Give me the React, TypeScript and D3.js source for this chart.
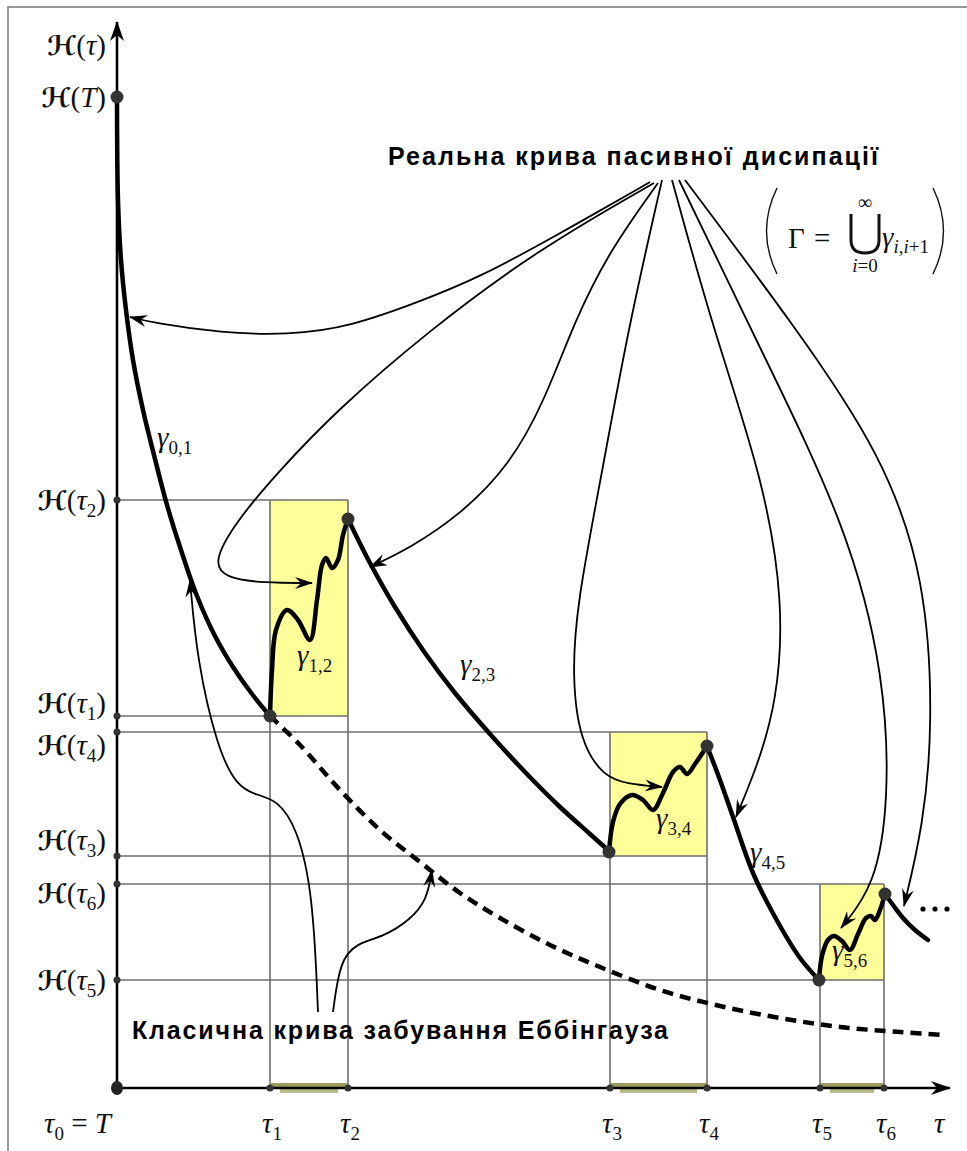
import * as d3 from "d3";
import React from "react";

const W = 967;
const H = 1151;

// time instants τ0..τ6 (abstract time units)
const tauValues = [0, 15.3, 23.1, 49.3, 59.0, 70.3, 76.7];
// memory level ℋ at each instant (index 0 is ℋ(T))
const hValues = [99.1, 37.2, 58.8, 23.2, 35.6, 10.8, 20.4];
// repetition intervals (pairs of τ indices)
const intervals = [
  [1, 2],
  [3, 4],
  [5, 6],
];

// passive dissipation segments
const gamma01: [number, number][] = [
  [0, 99.1], [0.1, 88.8], [0.4, 82.8], [0.9, 77.8], [1.6, 72.8], [2.6, 67.8], [3.7, 63.3],
  [5.0, 58.3], [6.4, 53.8], [8.0, 49.2], [9.8, 45.2], [11.6, 42.1], [13.5, 39.4], [15.3, 37.2],
];
const gamma12: [number, number][] = [
  [15.3, 37.2], [15.5, 41.8], [15.9, 45.8], [17.0, 47.8], [18.1, 46.8], [19.3, 44.8],
  [20.0, 48.8], [20.5, 52.3], [20.9, 53.0], [21.5, 52.0], [22.1, 52.8], [22.6, 55.3], [23.1, 56.9],
];
const gamma23: [number, number][] = [
  [23.1, 56.9], [25.3, 52.5], [27.8, 48.1], [30.8, 43.5], [33.8, 39.5], [37.3, 35.4],
  [40.8, 31.6], [44.3, 28.1], [47.3, 25.4], [49.2, 23.7],
];
const gamma34: [number, number][] = [
  [49.2, 23.6], [49.6, 26.6], [50.3, 28.4], [51.5, 29.3], [52.6, 28.8], [53.6, 27.8],
  [54.6, 29.5], [55.6, 31.6], [56.3, 32.1], [57.0, 31.4], [57.8, 32.4], [59.0, 34.2],
];
const gamma45: [number, number][] = [
  [59.0, 34.2], [60.3, 30.8], [61.6, 27.1], [63.6, 21.5], [65.8, 17.1], [68.3, 13.0], [70.2, 10.8],
];
const gamma56: [number, number][] = [
  [70.2, 10.8], [70.5, 13.2], [71.1, 14.8], [71.7, 15.2], [72.5, 14.7], [73.3, 13.8],
  [74.1, 15.4], [74.9, 17.0], [75.4, 17.2], [75.8, 16.8], [76.3, 17.8], [76.8, 19.4],
];
const gammaTail: [number, number][] = [
  [76.8, 19.4], [77.6, 18.3], [78.6, 17.0], [79.8, 15.8], [81.1, 14.8],
];
// classic Ebbinghaus forgetting curve
const ebbinghaus: [number, number][] = [
  [15.3, 37.2], [18.3, 34.3], [22.3, 29.8], [26.3, 25.8], [30.3, 22.6], [34.3, 19.5],
  [38.3, 17.0], [43.3, 14.3], [48.3, 12.1], [54.3, 9.8], [60.3, 8.2], [66.3, 7.0],
  [72.3, 6.1], [78.3, 5.6], [82.8, 5.3],
];
const knots: [number, number][] = [
  [15.3, 37.2], [23.1, 56.9], [49.2, 23.6], [59.0, 34.2], [70.2, 10.8], [76.8, 19.4],
];

// pointer arrows from the two captions
const topArrows: [number, number][][] = [
  [[53.3, 90.6], [43.7, 85.1], [36.3, 81.1], [30.7, 78.8], [23.3, 76.1], [17.1, 75.3], [10.4, 75.5], [3.7, 76.5], [1.3, 77.1]],
  [[53.7, 90.5], [42.0, 83.8], [31.0, 75.6], [22.0, 67.8], [16.0, 61.5], [11.8, 56.5], [9.6, 52.6], [10.8, 51.0], [14.6, 50.5], [19.5, 50.5]],
  [[54.1, 90.5], [49.3, 83.8], [45.8, 76.8], [42.8, 68.8], [39.3, 62.3], [34.3, 57.3], [29.3, 54.0], [25.3, 52.1]],
  [[54.5, 90.8], [51.1, 75.9], [48.4, 61.0], [46.0, 48.5], [45.5, 41.1], [46.3, 34.6], [48.7, 31.1], [51.1, 30.4], [54.5, 30.1]],
  [[55.5, 90.8], [59.6, 75.9], [64.6, 61.0], [66.7, 48.5], [66.0, 38.6], [64.0, 32.1], [61.9, 27.1]],
  [[56.2, 90.8], [64.6, 73.4], [73.1, 56.0], [76.8, 41.1], [77.2, 28.6], [75.8, 20.2], [72.4, 16.0]],
  [[56.8, 90.8], [68.0, 75.9], [76.5, 63.4], [80.9, 51.0], [81.6, 36.1], [80.6, 26.1], [78.7, 18.2]],
];
const bottomArrows: [number, number][][] = [
  [[20.1, 7.6], [19.6, 19.5], [18.0, 26.1], [16.0, 28.8], [14.0, 29.3], [12.0, 30.1], [10.0, 34.1], [8.0, 42.8], [7.3, 50.8]],
  [[21.6, 7.6], [22.3, 12.8], [24.0, 14.5], [26.6, 15.1], [29.3, 16.8], [31.0, 18.8], [31.5, 21.8]],
];

const x = d3.scaleLinear().domain([0, 83.3]).range([117, 950]);
const y = d3.scaleLinear().domain([0, 106.6]).range([1088, 22]);

const smooth = d3
  .line<[number, number]>()
  .x((d) => x(d[0]))
  .y((d) => y(d[1]))
  .curve(d3.curveCatmullRom.alpha(0.5));

const soft = d3
  .line<[number, number]>()
  .x((d) => x(d[0]))
  .y((d) => y(d[1]))
  .curve(d3.curveBasis);

const serif = "'Liberation Serif', 'DejaVu Serif', serif";
const scriptH = "'DejaVu Serif', 'DejaVu Sans', serif";
const sans = "'Liberation Sans', Arial, sans-serif";

const HLabel = ({ yy, sub }: { yy: number; sub: string | null }) => (
  <text x={106} y={yy + 10} textAnchor="end" fontFamily={serif} fontSize={29} fill="#111">
    <tspan fontFamily={scriptH} fontWeight="bold" fontStyle="italic" fontSize={27}>ℋ</tspan>
    <tspan>(</tspan>
    {sub === null ? (
      <tspan fontStyle="italic">T</tspan>
    ) : sub === "" ? (
      <tspan fontStyle="italic">τ</tspan>
    ) : (
      <>
        <tspan fontStyle="italic">τ</tspan>
        <tspan fontSize={19} dy={7}>{sub}</tspan>
      </>
    )}
    <tspan dy={sub ? -7 : 0}>)</tspan>
  </text>
);

const GLabel = ({ px, py, sub }: { px: number; py: number; sub: string }) => (
  <text x={px} y={py} fontFamily={serif} fontSize={29} fill="#111">
    <tspan fontStyle="italic">γ</tspan>
    <tspan fontSize={19} dy={7}>{sub}</tspan>
  </text>
);

const hLabelShift = [0, -13, 0, -16, 13, 0, 9];

export default function App() {
  const axisY = y(0);
  const axisX = x(0);
  return (
    <svg width={W} height={H} viewBox={`0 0 ${W} ${H}`} style={{ display: "block", position: "absolute", left: 0, top: 0 }}>
      <defs>
        <marker id="arr" viewBox="0 0 18 12" refX={17} refY={6} markerWidth={18} markerHeight={12} markerUnits="userSpaceOnUse" orient="auto">
          <path d="M0,0 L18,6 L0,12 L6,6 Z" fill="#000" />
        </marker>
        <marker id="axarr" viewBox="0 0 20 14" refX={19} refY={7} markerWidth={20} markerHeight={14} markerUnits="userSpaceOnUse" orient="auto">
          <path d="M0,0 L20,7 L0,14 L6,7 Z" fill="#000" />
        </marker>
      </defs>
      <rect x={0} y={0} width={W} height={H} fill="#fff" />
      <rect x={8} y={7} width={W + 20} height={H + 20} fill="none" stroke="#777" strokeWidth={1.5} />

      {/* yellow repetition boxes */}
      {intervals.map(([a, b], i) => (
        <rect
          key={i}
          x={x(tauValues[a])}
          y={y(hValues[b])}
          width={x(tauValues[b]) - x(tauValues[a])}
          height={y(hValues[a]) - y(hValues[b])}
          fill="#ffff99"
        />
      ))}

      {/* guide lines */}
      <g stroke="#6e6e6e" strokeWidth={1.6} fill="none">
        {intervals.map(([a, b], i) => (
          <g key={i}>
            <line x1={axisX} x2={x(tauValues[b])} y1={y(hValues[a])} y2={y(hValues[a])} />
            <line x1={axisX} x2={x(tauValues[b])} y1={y(hValues[b])} y2={y(hValues[b])} />
            <line x1={x(tauValues[a])} x2={x(tauValues[a])} y1={axisY} y2={y(hValues[b])} />
            <line x1={x(tauValues[b])} x2={x(tauValues[b])} y1={axisY} y2={y(hValues[b])} />
          </g>
        ))}
      </g>

      {/* olive bands on the time axis */}
      {intervals.map(([a, b], i) => (
        <g key={i}>
          <rect x={x(tauValues[a])} y={axisY - 5} width={x(tauValues[b]) - x(tauValues[a])} height={6} fill="#9c9c62" />
          <rect x={x(tauValues[a]) + 10} y={axisY + 1} width={x(tauValues[b]) - x(tauValues[a]) - 20} height={4} fill="#b9bb8a" />
        </g>
      ))}

      {/* axes */}
      <line x1={axisX} y1={axisY} x2={axisX} y2={y(106.6)} stroke="#000" strokeWidth={2.6} markerEnd="url(#axarr)" />
      <line x1={axisX} y1={axisY} x2={x(83.3)} y2={axisY} stroke="#000" strokeWidth={2.6} markerEnd="url(#axarr)" />
      <ellipse cx={axisX} cy={axisY} rx={6} ry={7} fill="#222" />

      {/* small axis dots */}
      {tauValues.slice(1).map((t, i) => (
        <circle key={"t" + i} cx={x(t)} cy={axisY} r={3.5} fill="#333" />
      ))}
      {hValues.slice(1).map((h, i) => (
        <circle key={"h" + i} cx={axisX} cy={y(h)} r={3.5} fill="#333" />
      ))}

      {/* Ebbinghaus dashed curve */}
      <path d={smooth(ebbinghaus) || ""} fill="none" stroke="#000" strokeWidth={4.5} strokeDasharray="11 7" />

      {/* real passive dissipation curve */}
      <g fill="none" stroke="#000" strokeWidth={4.5} strokeLinecap="round" strokeLinejoin="round">
        {[gamma01, gamma12, gamma23, gamma34, gamma45, gamma56, gammaTail].map((c, i) => (
          <path key={i} d={smooth(c) || ""} />
        ))}
      </g>
      <circle cx={axisX} cy={y(hValues[0])} r={6.5} fill="#333" />
      {knots.map((k, i) => (
        <circle key={i} cx={x(k[0])} cy={y(k[1])} r={6.5} fill="#333" />
      ))}
      <g fill="#000">
        <circle cx={923} cy={909} r={2.6} />
        <circle cx={935} cy={909} r={2.6} />
        <circle cx={947} cy={909} r={2.6} />
      </g>

      {/* pointer arrows */}
      <g fill="none" stroke="#000" strokeWidth={1.8}>
        {topArrows.concat(bottomArrows).map((a, i) => (
          <path key={i} d={soft(a) || ""} markerEnd="url(#arr)" />
        ))}
      </g>

      {/* captions */}
      <text x={388} y={165} textLength={490} lengthAdjust="spacing" fontFamily={sans} fontWeight="bold" fontSize={25} fill="#000">
        Реальна крива пасивної дисипації
      </text>
      <text x={132} y={1039} textLength={536} lengthAdjust="spacing" fontFamily={sans} fontWeight="bold" fontSize={25} fill="#000">
        Класична крива забування Еббінгауза
      </text>

      {/* segment labels */}
      <GLabel px={157} py={447} sub="0,1" />
      <GLabel px={297} py={665} sub="1,2" />
      <GLabel px={460} py={674} sub="2,3" />
      <GLabel px={656} py={828} sub="3,4" />
      <GLabel px={750} py={862} sub="4,5" />
      <GLabel px={832} py={960} sub="5,6" />

      {/* formula */}
      <g fill="none" stroke="#111" strokeWidth={1.4}>
        <path d="M777,188 Q756,231 777,274" />
        <path d="M933,188 Q954,231 933,274" />
        <path d="M851,214 L851,240 Q851,253 865,253 Q879,253 879,240 L879,214" strokeWidth={3} />
      </g>
      <text x={788} y={248} fontFamily={serif} fontSize={29} fill="#111">Γ</text>
      <text x={814} y={248} fontFamily={serif} fontSize={29} fill="#111">=</text>
      <text x={865} y={209} textAnchor="middle" fontFamily={serif} fontSize={20} fill="#111">∞</text>
      <text x={865} y={272} textAnchor="middle" fontFamily={serif} fontSize={19} fill="#111">
        <tspan fontStyle="italic">i</tspan>=0
      </text>
      <text x={882} y={247} fontFamily={serif} fontSize={29} fill="#111">
        <tspan fontStyle="italic">γ</tspan>
        <tspan fontSize={19} dy={6}>
          <tspan fontStyle="italic">i</tspan>,<tspan fontStyle="italic">i</tspan>+1
        </tspan>
      </text>

      {/* y-axis labels */}
      <HLabel yy={45} sub="" />
      <HLabel yy={y(hValues[0])} sub={null} />
      {hValues.slice(1).map((h, i) => (
        <HLabel key={i} yy={y(h) + hLabelShift[i + 1]} sub={String(i + 1)} />
      ))}

      {/* x-axis labels */}
      <text x={44} y={1133} fontFamily={serif} fontSize={29} fill="#111">
        <tspan fontStyle="italic">τ</tspan>
        <tspan fontSize={19} dy={7}>0</tspan>
        <tspan dy={-7}> = </tspan>
        <tspan fontStyle="italic">T</tspan>
      </text>
      {tauValues.slice(1).map((t, i) => (
        <text key={i} x={x(t) + 2} y={1133} textAnchor="middle" fontFamily={serif} fontSize={29} fill="#111">
          <tspan fontStyle="italic">τ</tspan>
          <tspan fontSize={19} dy={7}>{i + 1}</tspan>
        </text>
      ))}
      <text x={934} y={1133} fontFamily={serif} fontSize={29} fontStyle="italic" fill="#111">τ</text>
    </svg>
  );
}
